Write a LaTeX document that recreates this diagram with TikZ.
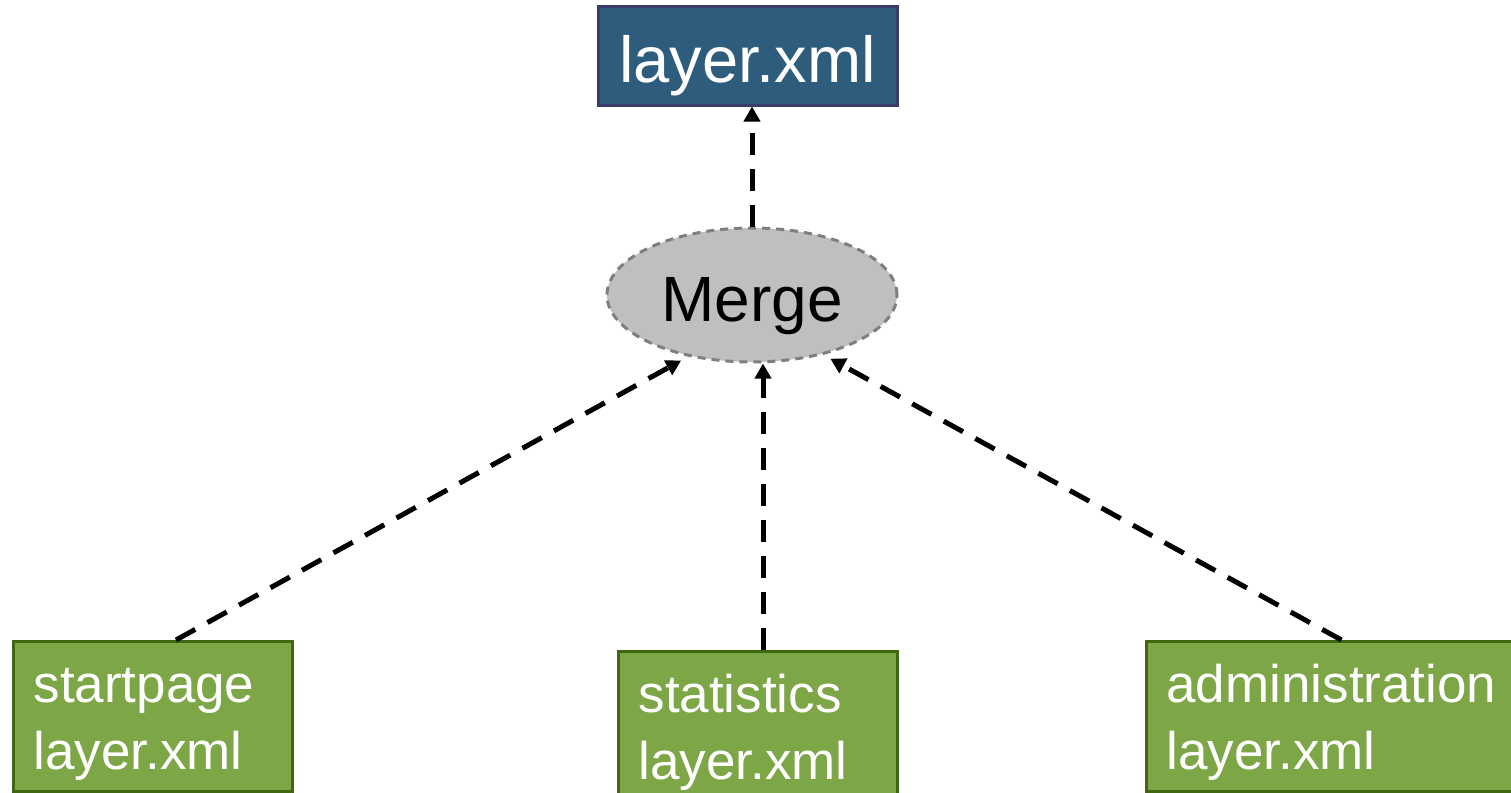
\documentclass[tikz,border=0pt]{standalone}
\usepackage{fontspec}
\setmainfont{Liberation Sans}
\usetikzlibrary{arrows.meta,shapes.geometric}

\definecolor{topfill}{HTML}{2E5C7C}
\definecolor{topline}{HTML}{383D6C}
\definecolor{greenfill}{HTML}{7DA647}
\definecolor{greenline}{HTML}{406810}
\definecolor{mergefill}{HTML}{BFBFBF}
\definecolor{mergeline}{HTML}{7F7F7F}

\begin{document}
\begin{tikzpicture}[x=0.5pt,y=-0.5pt,
    layerbox/.style={draw=greenline, fill=greenfill, line width=1.5pt, text=white,
        anchor=north west, inner xsep=10pt, inner ysep=0pt, align=left,
        minimum height=75pt, text height=26pt, text depth=40pt,
        font=\fontsize{26.5}{33.5}\selectfont},
    mergedash/.style={line width=2.5pt, dash pattern=on 11pt off 7pt,
        -{Triangle[length=7.5pt,width=8pt]}}]
    \useasboundingbox (0,0) rectangle (1511,793);

    \node[draw=topline, fill=topfill, line width=1.5pt, text=white,
        minimum width=149.5pt, minimum height=49.5pt, inner sep=0pt,
        text height=30pt, text depth=3.5pt,
        font=\fontsize{32.5}{40}\selectfont] (result) at (747.5,55.5) {layer.xml};

    \node[ellipse, draw=mergeline, fill=mergefill, line width=1.5pt,
        dash pattern=on 4pt off 3pt, minimum width=145pt, minimum height=67pt,
        inner sep=0pt, text height=29pt, text depth=3pt,
        font=\fontsize{32}{38}\selectfont] (merge) at (752,295) {Merge};

    \node[layerbox, text width=119.5pt] (startpage) at (12,640) {startpage\\layer.xml};
    \node[layerbox, text width=119.5pt] (statistics) at (617,650) {statistics\\layer.xml};
    \node[layerbox, text width=172pt] (administration) at (1145,640) {administration\\layer.xml};

    \draw[mergedash] (merge.north) -- (merge.north |- result.south);
    \draw[mergedash, shorten >=4pt] ([xshift=11.5pt]startpage.north) -- (merge.224);
    \draw[mergedash] ([xshift=2.5pt]statistics.north) -- ([xshift=2.5pt]statistics.north |- merge.south);
    \draw[mergedash, shorten >=4pt] ([xshift=1.5pt]administration.north) -- (merge.320);

\end{tikzpicture}
\end{document}
